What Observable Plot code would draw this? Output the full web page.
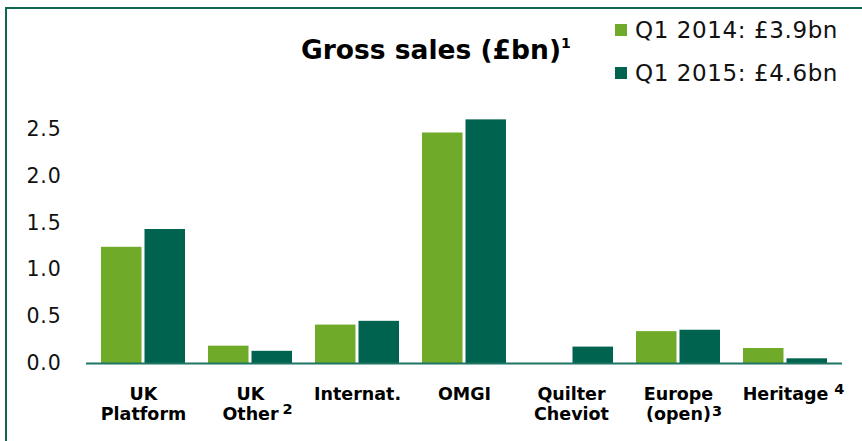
<!DOCTYPE html>
<html>
<head>
<meta charset="utf-8">
<script src="https://cdn.jsdelivr.net/npm/d3@7"></script>
<script src="https://cdn.jsdelivr.net/npm/@observablehq/plot@0.6"></script>
<style>
  html, body { margin: 0; padding: 0; background: #fff; overflow: hidden; }
  #wrap { position: relative; width: 862px; height: 441px; font-family: "DejaVu Sans", sans-serif; }
  #frame { position: absolute; left: 5px; top: 7px; width: 900px; height: 500px;
           border-left: 2px solid #0f6651; border-top: 2px solid #0f6651; }
  #title { position: absolute; left: 301px; top: 35px; font-size: 26.5px; line-height: 30px;
           font-weight: bold; color: #000; white-space: nowrap; }
  #title sup { font-size: 14px; vertical-align: 0; position: relative; top: -11px; margin-left: 0px; }
  #legend { position: absolute; left: 615px; top: 17px; }
  .row { display: flex; align-items: center; height: 26px; margin-bottom: 17px;
         font-size: 23px; line-height: 26px; color: #111; white-space: nowrap; letter-spacing: 0.6px; }
  .sw { width: 12px; height: 12px; margin-right: 8px; }
  #chart { position: absolute; left: 0; top: 0; }
</style>
</head>
<body>
<div id="wrap">
  <div id="frame"></div>
  <div id="chart"></div>
  <div id="title"></div>
  <div id="legend"></div>
</div>
<script>
// ---- data ----
const categories = ["UK Platform", "UK Other", "Internat.", "OMGI", "Quilter Cheviot", "Europe (open)", "Heritage"];
const tickLabels = ["UK\nPlatform", "UK\nOther", "Internat.", "OMGI", "Quilter\nCheviot", "Europe\n(open)", "Heritage"];
const footnotes = ["", "2", "", "", "", "3", "4"];
const seriesKeys = ["Q1 2014", "Q1 2015"];
const legendLabels = ["Q1 2014: £3.9bn", "Q1 2015: £4.6bn"];
const values2014 = [1.24, 0.185, 0.41, 2.46, 0, 0.34, 0.16];
const values2015 = [1.43, 0.13, 0.45, 2.60, 0.175, 0.355, 0.05];
const yTicks = [0, 0.5, 1.0, 1.5, 2.0, 2.5];
const titleText = "Gross sales (£bn)";
const titleNote = "1";
const colors = ["#6fab28", "#00634f"];

const table = categories.flatMap((c, i) => [
  {category: c, series: seriesKeys[0], value: values2014[i]},
  {category: c, series: seriesKeys[1], value: values2015[i]}
]);
const labelOf = new Map(categories.map((c, i) => [c, tickLabels[i]]));

const chart = Plot.plot({
  width: 862,
  height: 441,
  marginLeft: 86,
  marginRight: 20,
  marginTop: 110,
  marginBottom: 78,
  style: {fontFamily: "DejaVu Sans, sans-serif", color: "#000", background: "transparent"},
  x: {domain: categories, paddingInner: 0.213, paddingOuter: 0.107},
  y: {domain: [0, 2.7]},
  color: {domain: seriesKeys, range: colors},
  marks: [
    Plot.barY(table.filter(d => d.series === seriesKeys[0]),
      {x: "category", y: "value", fill: "series", insetRight: 43.5, insetLeft: 0}),
    Plot.barY(table.filter(d => d.series === seriesKeys[1]),
      {x: "category", y: "value", fill: "series", insetLeft: 43.5, insetRight: 0}),
    Plot.ruleY([0], {stroke: "#1f7563", strokeWidth: 2.2}),
    Plot.axisY({ticks: yTicks, tickSize: 0, tickPadding: 25, tickFormat: d3.format(".1f"),
      fontSize: 20.5, label: null, fill: "#111"}),
    Plot.axisX({tickSize: 0, tickPadding: 22, tickFormat: d => labelOf.get(d),
      fontSize: 17.5, fontWeight: "bold", lineHeight: 1.15, label: null, fill: "#000"})
  ]
});
document.getElementById("chart").appendChild(chart);

// y tick letter spacing
chart.querySelectorAll('g[aria-label="y-axis tick label"] text').forEach(t => {
  t.setAttribute("letter-spacing", "0.8");
});

// footnote superscripts on x tick labels
const xt = chart.querySelectorAll('g[aria-label="x-axis tick label"] text');
xt.forEach((t, i) => {
  const note = footnotes[i];
  if (!note) return;
  const spans = t.querySelectorAll("tspan");
  let lineW;
  const ns = "http://www.w3.org/2000/svg";
  const sup = document.createElementNS(ns, "tspan");
  sup.textContent = note;
  sup.setAttribute("font-size", "14.5");
  if (spans.length) {
    const last = spans[spans.length - 1];
    lineW = last.getComputedTextLength();
    const txt = last.textContent;
    sup.setAttribute("dy", txt.endsWith(")") ? "-4" : "-6");
    t.appendChild(sup);
    const sw = sup.getComputedTextLength();
    const gap = txt.endsWith(")") ? 1 : 4;
    sup.setAttribute("x", lineW / 2 + gap + sw / 2);
  } else {
    lineW = t.getComputedTextLength();
    sup.setAttribute("dy", "-6");
    t.appendChild(sup);
    const sw = sup.getComputedTextLength();
    sup.setAttribute("x", lineW / 2 + 6 + sw / 2);
  }
});

// title
const title = document.getElementById("title");
title.textContent = titleText;
const sup = document.createElement("sup");
sup.textContent = titleNote;
title.appendChild(sup);

// legend
const legend = document.getElementById("legend");
seriesKeys.forEach((k, i) => {
  const row = document.createElement("div");
  row.className = "row";
  const sw = document.createElement("div");
  sw.className = "sw";
  sw.style.background = colors[i];
  const lab = document.createElement("span");
  lab.textContent = legendLabels[i];
  row.appendChild(sw);
  row.appendChild(lab);
  legend.appendChild(row);
});
</script>
</body>
</html>
